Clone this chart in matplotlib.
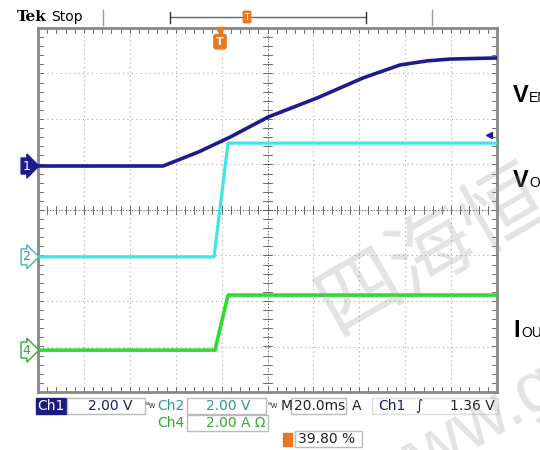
import numpy as np
import matplotlib
matplotlib.use("Agg")
import matplotlib.pyplot as plt
from matplotlib.patches import Rectangle

W, H = 540, 450

# scope traces: time in ms, value in V / A
ch1_t = [0, 54.5, 70.0, 83.7, 100.2, 121.6, 141.6, 157.7, 169.5, 179.5, 200]
ch1_v = [0, 0, 0.62, 1.27, 2.15, 2.99, 3.87, 4.44, 4.62, 4.70, 4.75]
ch2_t = [0, 76.7, 82.8, 200]
ch2_v = [0, 0, 5.0, 5.0]
ch4_t = [0, 77.1, 82.8, 200]
ch4_a = [0, 0, 2.42, 2.42]

# channel settings (volts per div, ground position in div)
ch1_scale, ch1_pos = 2.0, 0.967
ch2_scale, ch2_pos = 2.0, -1.03
ch4_scale, ch4_pos = 2.0, -3.08

trace_labels = [("V", "EN", 93), ("V", "OUT", 178), ("I", "OUT", 328)]

NAVY = "#1c1c8c"
CYAN = "#3ee6e6"
GREEN = "#2edc2e"
ORANGE = "#e8781e"


def fx(x):
    return x / W


def fy(y):
    return 1 - y / H


fig = plt.figure(figsize=(5.4, 4.5), dpi=100)
fig.patch.set_facecolor("white")
ax = fig.add_axes([fx(38), fy(392), (497 - 38) / W, (392 - 28) / H])
ax.set_xlim(0, 200)
ax.set_ylim(-4, 4)
ax.set_xticks([]); ax.set_yticks([])
for s in ax.spines.values():
    s.set_color("#888888"); s.set_linewidth(2)

# graticule
for k in range(1, 10):
    ax.axvline(k * 20, color="#aaaaaa", lw=0.8, ls=(0, (1, 3)), zorder=1)
for k in range(-3, 4):
    ax.axhline(k, color="#aaaaaa", lw=0.8, ls=(0, (1, 3)), zorder=1)
ax.axvline(100, color="#555555", lw=0.7, ls=(0, (1, 2)), zorder=1)
ax.axhline(0, color="#555555", lw=0.7, ls=(0, (1, 2)), zorder=1)
for t in np.arange(0, 200.1, 4):
    ax.plot([t, t], [-0.08, 0.08], color="#555555", lw=0.6, zorder=1)
    ax.plot([t, t], [3.9, 4], color="#555555", lw=0.6, zorder=1)
    ax.plot([t, t], [-4, -3.9], color="#555555", lw=0.6, zorder=1)
for v in np.arange(-4, 4.01, 0.2):
    ax.plot([98, 102], [v, v], color="#555555", lw=0.6, zorder=1)
    ax.plot([0, 2], [v, v], color="#555555", lw=0.6, zorder=1)
    ax.plot([198, 200], [v, v], color="#555555", lw=0.6, zorder=1)

# traces
ax.plot(ch1_t, np.array(ch1_v) / ch1_scale + ch1_pos, color=NAVY, lw=2.6, zorder=4)
ax.plot(ch2_t, np.array(ch2_v) / ch2_scale + ch2_pos, color=CYAN, lw=2.3, zorder=3)
ax.plot(ch4_t, np.array(ch4_a) / ch4_scale + ch4_pos, color=GREEN, lw=2.6, zorder=3)

# channel ground markers
tr = ax.get_yaxis_transform()
for lab, pos, fc, ec, tc in [("1", ch1_pos, NAVY, NAVY, "white"),
                             ("2", ch2_pos, "white", "#3cb8b8", "#2a9a9a"),
                             ("4", ch4_pos, "white", "#33aa33", "#33aa33")]:
    ax.text(-0.025, pos, lab, transform=tr, ha="center", va="center",
            fontsize=9, color=tc, clip_on=False, zorder=6,
            bbox=dict(boxstyle="rarrow,pad=0.12", fc=fc, ec=ec, lw=1))

# trigger position + level markers
ax.text(79.3, 3.7, "T", ha="center", va="center", fontsize=8, color="white",
        fontweight="bold", zorder=6,
        bbox=dict(boxstyle="round,pad=0.2", fc=ORANGE, ec=ORANGE))
ax.plot([79.3], [3.93], marker="v", color=ORANGE, ms=6, zorder=6, clip_on=False)
ax.plot([196.5], [(210 - 135) / 45.5], marker="<", color=NAVY, ms=5, zorder=6)

# header
fig.text(fx(17), fy(17), "Tek", fontsize=11, fontweight="bold",
         family="DejaVu Serif", va="center")
fig.text(fx(51), fy(17), "Stop", fontsize=10, va="center")
fig.add_artist(plt.Line2D([fx(103), fx(103)], [fy(10), fy(25)], color="#999999", lw=1))
fig.add_artist(plt.Line2D([fx(432), fx(432)], [fy(10), fy(25)], color="#999999", lw=1))
fig.add_artist(plt.Line2D([fx(170), fx(366)], [fy(17), fy(17)], color="#666666", lw=1))
fig.add_artist(plt.Line2D([fx(170), fx(170)], [fy(12), fy(23)], color="#333333", lw=1))
fig.add_artist(plt.Line2D([fx(366), fx(366)], [fy(12), fy(23)], color="#333333", lw=1))
fig.text(fx(247), fy(17), "T", fontsize=6, color="white", ha="center", va="center",
         bbox=dict(boxstyle="round,pad=0.15", fc=ORANGE, ec=ORANGE))


def box(x0, y0, x1, y1, fc="white", ec="#bbbbbb"):
    fig.add_artist(Rectangle((fx(x0), fy(y1)), (x1 - x0) / W, (y1 - y0) / H,
                             transform=fig.transFigure, fc=fc, ec=ec, lw=1))


def txt(x, y, s, color, ha="left", size=10):
    fig.text(fx(x), fy(y), s, color=color, ha=ha, va="center", fontsize=size)


# status bar
box(36, 398, 66, 414, fc="#1a1a80", ec="#1a1a80")
txt(51, 406, "Ch1", "white", ha="center")
box(67, 398, 145, 414)
txt(132, 406, "2.00 V", "#1a1a70", ha="right")
txt(146, 405, "ᴮw", "#444444", size=6)
txt(157, 406, "Ch2", "#2a9a9a")
box(187, 398, 266, 414)
txt(250, 406, "2.00 V", "#2a9a9a", ha="right")
txt(268, 405, "ᴮw", "#444444", size=6)
txt(281, 406, "M", "#222222")
box(291, 398, 346, 414)
txt(294, 406, "20.0ms", "#222222")
txt(352, 406, "A", "#222222")
box(372, 398, 498, 414, ec="#dddddd")
txt(378, 406, "Ch1", "#1a1a70")
txt(415, 406, "\u222b", "#222222")
txt(495, 406, "1.36 V", "#222222", ha="right")
txt(157, 423, "Ch4", "#33aa33")
box(187, 415, 268, 431)
txt(266, 423, "2.00 A \u03a9", "#33aa33", ha="right")
box(283, 433, 292, 446, fc=ORANGE, ec=ORANGE)
box(295, 431, 362, 447)
txt(298, 439, "39.80 %", "#222222")

# signal names on the right, clipped by the image edge as in the screenshot
for big, sub, y in trace_labels:
    fig.text(fx(513), fy(y + 9), big, fontsize=17, family="Liberation Sans",
             fontweight="bold", va="baseline")
    fig.text(fx(513 + (16 if big == "V" else 8)), fy(y + 9), sub, fontsize=10,
             family="Liberation Sans", va="baseline")

# watermark
fig.text(fx(432), fy(250), "四海恒", family=["Noto Sans CJK SC", "DejaVu Sans"],
         fontsize=60, color="#999999", alpha=0.28, rotation=30,
         ha="center", va="center", zorder=10)
fig.text(fx(480), fy(425), "www.go", fontsize=52, color="#999999", alpha=0.28,
         rotation=30, ha="center", va="center", family="Liberation Sans", zorder=10)

fig.savefig("out.png", dpi=100)
